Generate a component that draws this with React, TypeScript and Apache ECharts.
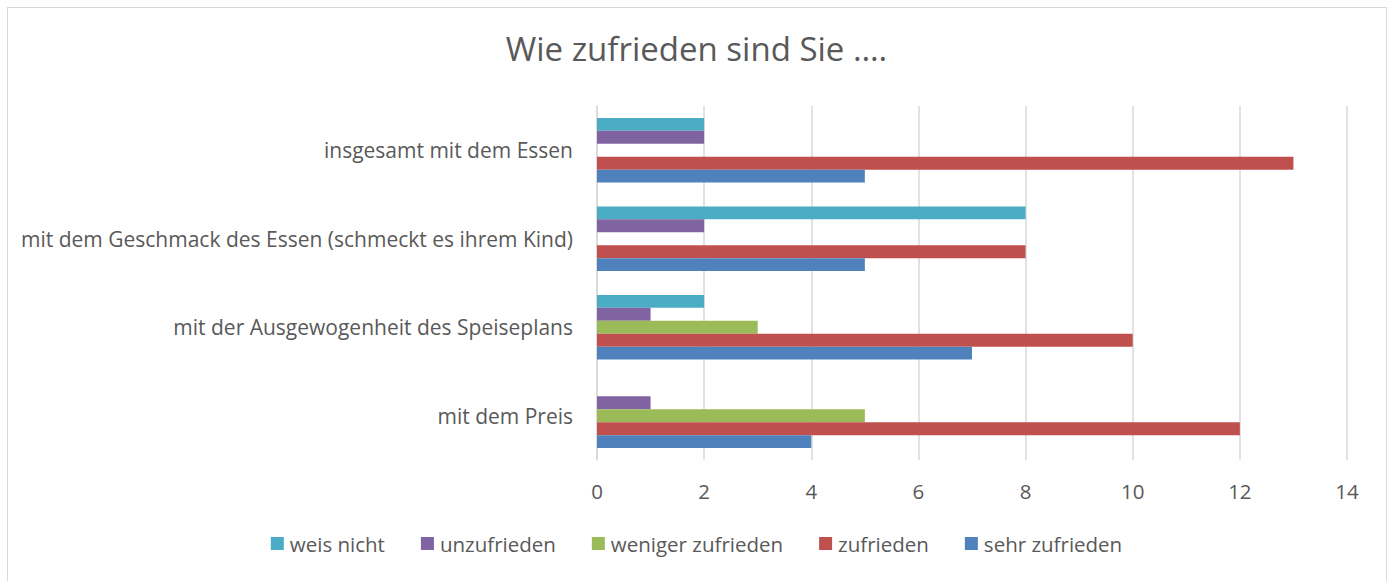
import React, { useEffect, useRef } from "react";
import * as echarts from "echarts";

const categories = [
  "mit dem Preis",
  "mit der Ausgewogenheit des Speiseplans",
  "mit dem Geschmack des Essen (schmeckt es ihrem Kind)",
  "insgesamt mit dem Essen",
];
const sehrZufrieden = [4, 7, 5, 5];
const zufrieden = [12, 10, 8, 13];
const wenigerZufrieden = [5, 3, 0, 0];
const unzufrieden = [1, 1, 2, 2];
const weisNicht = [0, 2, 8, 2];
const legendOrder = ["weis nicht", "unzufrieden", "weniger zufrieden", "zufrieden", "sehr zufrieden"];
const xTicks = { min: 0, max: 14, interval: 2 };

const FONT = "'Open Sans', 'Noto Sans', sans-serif";
const TXT = "#595959";

export default function App() {
  const ref = useRef<HTMLDivElement>(null);
  useEffect(() => {
    const chart = echarts.init(ref.current!, null, { renderer: "svg" });
    const mk = (name: string, data: number[], color: string) => ({
      name,
      type: "bar",
      data,
      barGap: "0%",
      barCategoryGap: "27%",
      itemStyle: { color },
    });
    chart.setOption({
      animation: false,
      textStyle: { fontFamily: FONT },
      title: {
        text: "Wie zufrieden sind Sie ….",
        left: "center",
        top: 19,
        textStyle: { fontFamily: FONT, fontSize: 33, fontWeight: "normal", color: TXT },
      },
      legend: {
        data: legendOrder,
        bottom: 22,
        left: "center",
        icon: "rect",
        itemWidth: 13,
        itemHeight: 13,
        itemGap: 36,
        textStyle: { fontFamily: FONT, fontSize: 20.5, color: TXT, padding: [0, 0, 0, 1] },
      },
      grid: { left: 589, right: 38, top: 98, bottom: 121, containLabel: false },
      xAxis: {
        type: "value",
        min: xTicks.min,
        max: xTicks.max,
        interval: xTicks.interval,
        axisLine: { show: false },
        axisTick: { show: false },
        axisLabel: { fontFamily: FONT, fontSize: 20.5, color: TXT, margin: 20 },
        splitLine: { lineStyle: { color: "#d9d9d9", width: 1.5 } },
      },
      yAxis: {
        type: "category",
        data: categories,
        axisLine: { show: true, lineStyle: { color: "#d9d9d9", width: 1.5 } },
        axisTick: { show: false },
        axisLabel: { fontFamily: FONT, fontSize: 21, color: TXT, margin: 24 },
      },
      series: [
        mk("weis nicht", weisNicht, "#4BACC6"),
        mk("unzufrieden", unzufrieden, "#8064A2"),
        mk("weniger zufrieden", wenigerZufrieden, "#9BBB59"),
        mk("zufrieden", zufrieden, "#C0504D"),
        mk("sehr zufrieden", sehrZufrieden, "#4F81BD"),
      ],
    });
    return () => chart.dispose();
  }, []);
  return (
    <div
      style={{
        position: "fixed",
        left: 7,
        top: 7,
        width: 1380,
        height: 600,
        boxSizing: "border-box",
        border: "1px solid #d9d9d9",
        background: "#fff",
      }}
    >
      <div ref={ref} style={{ width: 1377, height: 573 }} />
    </div>
  );
}
